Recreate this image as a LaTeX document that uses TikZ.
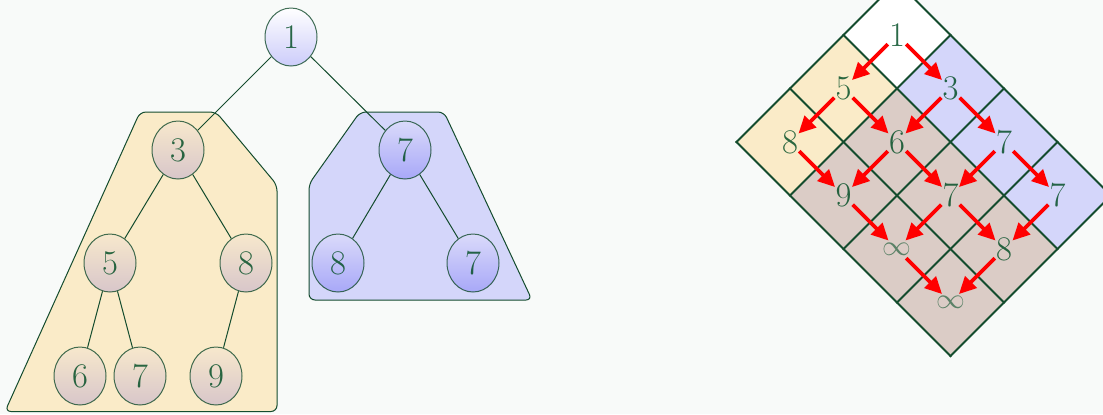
\documentclass[tikz,border=0pt]{standalone}
\usetikzlibrary{shapes.geometric,arrows.meta}
\definecolor{bg}{RGB}{248,250,249}
\definecolor{dgreen}{RGB}{20,76,46}
\definecolor{tgreen}{RGB}{6,80,40}
\definecolor{yel}{RGB}{250,235,200}
\definecolor{blu}{RGB}{212,214,250}
\definecolor{brn}{RGB}{219,204,198}
\definecolor{ytop}{RGB}{247,232,204}
\definecolor{ybot}{RGB}{216,198,202}
\definecolor{btop}{RGB}{218,218,250}
\definecolor{bbot}{RGB}{168,168,248}
\definecolor{rbot}{RGB}{204,204,250}
\tikzset{
  tnode/.style={ellipse, draw=dgreen, draw opacity=.8, line width=0.5pt,
    minimum width=26pt, minimum height=29pt, inner sep=0pt,
    font=\LARGE, text=tgreen, text opacity=.85},
  rootc/.style={top color=white, bottom color=rbot},
  ync/.style={top color=ytop, bottom color=ybot},
  bnc/.style={top color=btop, bottom color=bbot},
  tedge/.style={draw=dgreen, line width=0.5pt},
  ypoly/.style={fill=yel, draw=dgreen, line width=0.5pt, rounded corners=3pt},
  bpoly/.style={fill=blu, draw=dgreen, line width=0.5pt, rounded corners=3pt},
  gline/.style={draw=dgreen, line width=0.9pt, line cap=rect},
  lab/.style={font=\LARGE, text=tgreen, text opacity=.85, inner sep=0pt},
  inflab/.style={lab, font=\Large, text opacity=.6},
  arr/.style={draw=red, line width=1.8pt, -{Triangle[length=8.5pt,width=8pt]},
    shorten <=6.5pt, shorten >=6pt}
}
\begin{document}
\begin{tikzpicture}[x=0.5pt,y=-0.5pt]
\fill[bg] (0,0) rectangle (1103,414);
\clip (0,0) rectangle (1103,414);

% ---------- left: tree ----------
\draw[ypoly] (5,411.5) -- (140,112) -- (216,112) -- (277,185) -- (277,411.5) -- cycle;
\draw[bpoly] (309,300) -- (309,184) -- (360,112) -- (444,112) -- (532,300) -- cycle;

\node[tnode,rootc] (r)  at (291,37)  {1};
\node[tnode,ync]   (a3) at (178,150) {3};
\node[tnode,bnc]   (b7) at (405,150) {7};
\node[tnode,ync]   (a5) at (110,263) {5};
\node[tnode,ync]   (a8) at (246,263) {8};
\node[tnode,bnc]   (b8) at (338,263) {8};
\node[tnode,bnc]   (c7) at (473,263) {7};
\node[tnode,ync]   (a6) at (80,376)  {6};
\node[tnode,ync]   (a7) at (140,376) {7};
\node[tnode,ync]   (a9) at (216,376) {9};

\draw[tedge] (r) -- (a3);
\draw[tedge] (r) -- (b7);
\draw[tedge] (a3) -- (a5);
\draw[tedge] (a3) -- (a8);
\draw[tedge] (b7) -- (b8);
\draw[tedge] (b7) -- (c7);
\draw[tedge] (a5) -- (a6);
\draw[tedge] (a5) -- (a7);
\draw[tedge] (a8) -- (a9);

% ---------- right: rotated matrix ----------
\begin{scope}[shift={(448.5pt,9.25pt)}, x={(26.75pt,-26.75pt)}, y={(-26.75pt,-26.75pt)}]
  \fill[white] (0,0) -- (1,0) -- (1,1) -- (0,1) -- cycle;
  \fill[blu] (1,0) -- (4,0) -- (4,1) -- (1,1) -- cycle;
  \fill[yel] (0,1) -- (1,1) -- (1,3) -- (0,3) -- cycle;
  \fill[brn] (1,1) -- (4,1) -- (4,3) -- (1,3) -- cycle;
  \foreach \a in {0,...,4} \draw[gline] (\a,0) -- (\a,3);
  \foreach \b in {0,...,3} \draw[gline] (0,\b) -- (4,\b);

  \node[lab] (m00) at (0.5,0.5) {1};
  \node[lab] (m01) at (1.5,0.5) {3};
  \node[lab] (m02) at (2.5,0.5) {7};
  \node[lab] (m03) at (3.5,0.5) {7};
  \node[lab] (m10) at (0.5,1.5) {5};
  \node[lab] (m11) at (1.5,1.5) {6};
  \node[lab] (m12) at (2.5,1.5) {7};
  \node[lab] (m13) at (3.5,1.5) {8};
  \node[lab] (m20) at (0.5,2.5) {8};
  \node[lab] (m21) at (1.5,2.5) {9};
  \node[inflab] (m22) at (2.5,2.5) {$\infty$};
  \node[inflab] (m23) at (3.5,2.5) {$\infty$};
\end{scope}

\foreach \i in {0,1,2}{
  \foreach \j/\k in {0/1,1/2,2/3}{
    \draw[arr] (m\i\j.center) -- (m\i\k.center);
  }
}
\foreach \i/\n in {0/1,1/2}{
  \foreach \j in {0,1,2,3}{
    \draw[arr] (m\i\j.center) -- (m\n\j.center);
  }
}
\end{tikzpicture}
\end{document}
